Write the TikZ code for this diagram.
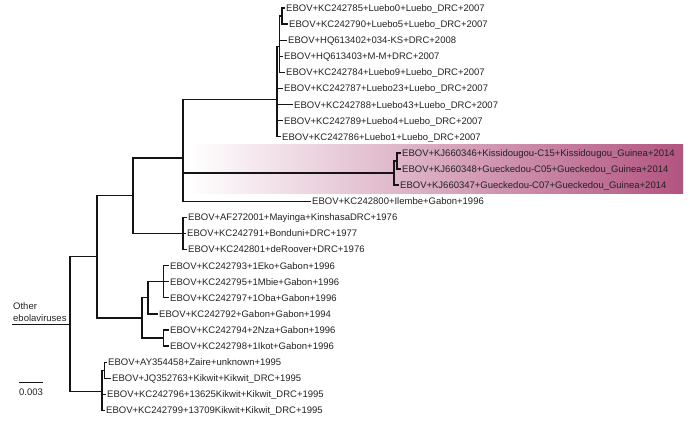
\documentclass[tikz,border=0pt]{standalone}
\usepackage{fontspec}
\setmainfont{Liberation Sans}
\definecolor{txt}{HTML}{222222}
\definecolor{kjpink}{RGB}{178,84,128}
\begin{document}
\begin{tikzpicture}[x=1pt,y=-1pt,
  leaf/.style={anchor=west,inner sep=0pt,font=\fontsize{9.5}{11}\selectfont,text=txt,text height=6.8pt,text depth=0pt},
  lab/.style={inner sep=0pt,font=\fontsize{9.5}{11}\selectfont,text=txt},
  br/.style={draw=black!92,line width=1.35pt,line cap=rect},
]
\useasboundingbox (0,0) rectangle (690,421);
\shade[left color=white,right color=kjpink] (190,144) rectangle (683,193);

% internal nodes
\coordinate (F) at (282,16.05);
\coordinate (E) at (279.5,46.24);
\coordinate (D) at (277,99.37);
\coordinate (H) at (397,160.95);
\coordinate (G) at (394,173.03);
\coordinate (C) at (183,157.87);
\coordinate (P) at (183,233.4);
\coordinate (B) at (133,195.63);
\coordinate (L) at (163.5,281.7);
\coordinate (J) at (148,297.8);
\coordinate (K) at (163.5,338.05);
\coordinate (I) at (142,317.93);
\coordinate (A) at (97,256.78);
\coordinate (N) at (104.5,370.25);
\coordinate (M) at (102,391.72);
\coordinate (R) at (70,324.25);
\coordinate (otherend) at (13,324.25);

% leaves
\node[leaf] (l0) at (286,8) {EBOV+KC242785+Luebo0+Luebo\_DRC+2007};
\node[leaf] (l1) at (289,24.1) {EBOV+KC242790+Luebo5+Luebo\_DRC+2007};
\node[leaf] (l2) at (288,40.2) {EBOV+HQ613402+034-KS+DRC+2008};
\node[leaf] (l3) at (284,56.3) {EBOV+HQ613403+M-M+DRC+2007};
\node[leaf] (l4) at (286,72.4) {EBOV+KC242784+Luebo9+Luebo\_DRC+2007};
\node[leaf] (l5) at (284,88.5) {EBOV+KC242787+Luebo23+Luebo\_DRC+2007};
\node[leaf] (l6) at (294,104.6) {EBOV+KC242788+Luebo43+Luebo\_DRC+2007};
\node[leaf] (l7) at (284,120.7) {EBOV+KC242789+Luebo4+Luebo\_DRC+2007};
\node[leaf] (l8) at (282,136.8) {EBOV+KC242786+Luebo1+Luebo\_DRC+2007};
\node[leaf] (l9) at (402,152.9) {EBOV+KJ660346+Kissidougou-C15+Kissidougou\_Guinea+2014};
\node[leaf] (l10) at (402,169) {EBOV+KJ660348+Gueckedou-C05+Gueckedou\_Guinea+2014};
\node[leaf] (l11) at (400,185.1) {EBOV+KJ660347+Gueckedou-C07+Gueckedou\_Guinea+2014};
\node[leaf] (l12) at (312,201.2) {EBOV+KC242800+Ilembe+Gabon+1996};
\node[leaf] (l13) at (188,217.3) {EBOV+AF272001+Mayinga+KinshasaDRC+1976};
\node[leaf] (l14) at (187,233.4) {EBOV+KC242791+Bonduni+DRC+1977};
\node[leaf] (l15) at (188,249.5) {EBOV+KC242801+deRoover+DRC+1976};
\node[leaf] (l16) at (170,265.6) {EBOV+KC242793+1Eko+Gabon+1996};
\node[leaf] (l17) at (170,281.7) {EBOV+KC242795+1Mbie+Gabon+1996};
\node[leaf] (l18) at (170,297.8) {EBOV+KC242797+1Oba+Gabon+1996};
\node[leaf] (l19) at (159,313.9) {EBOV+KC242792+Gabon+Gabon+1994};
\node[leaf] (l20) at (170,330) {EBOV+KC242794+2Nza+Gabon+1996};
\node[leaf] (l21) at (170,346.1) {EBOV+KC242798+1Ikot+Gabon+1996};
\node[leaf] (l22) at (108,362.2) {EBOV+AY354458+Zaire+unknown+1995};
\node[leaf] (l23) at (112,378.3) {EBOV+JQ352763+Kikwit+Kikwit\_DRC+1995};
\node[leaf] (l24) at (107,394.4) {EBOV+KC242796+13625Kikwit+Kikwit\_DRC+1995};
\node[leaf] (l25) at (106,410.5) {EBOV+KC242799+13709Kikwit+Kikwit\_DRC+1995};

% other ebolaviruses label
\node[lab,anchor=base west] (oth1) at (13,309) {Other};
\node[lab,anchor=base west] (oth2) at (13,321) {ebolaviruses};

% internal branches
\foreach \p/\c in {R/A,R/M,A/B,A/I,B/C,B/P,C/D,C/G,D/E,E/F,G/H,I/J,I/K,J/L,M/N}
  \draw[br] (\p) |- (\c);
% leaf branches
\foreach \p/\c in {F/l0,F/l1,E/l2,E/l3,E/l4,D/l5,D/l6,D/l7,D/l8,H/l9,H/l10,G/l11,C/l12,
  P/l13,P/l14,P/l15,L/l16,L/l17,L/l18,J/l19,K/l20,K/l21,N/l22,N/l23,M/l24,M/l25}
  \draw[br] (\p) |- ([xshift=-1.5pt]\c.west);
\draw[br] (otherend) -- (R);

% scale bar
\coordinate (sb1) at (19.3,382.7);
\coordinate (sb2) at (42.7,382.7);
\draw[br,line width=1.1pt] (sb1) -- (sb2);
\node[leaf,anchor=center] (sbl) at (31,391.7) {0.003};
\end{tikzpicture}
\end{document}
